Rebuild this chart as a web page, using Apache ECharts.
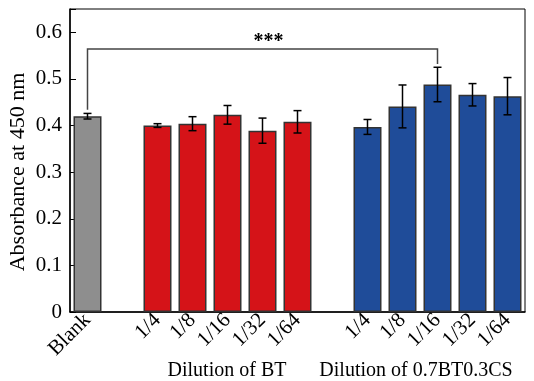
<!DOCTYPE html>
<html>
<head>
<meta charset="utf-8">
<script src="https://cdn.jsdelivr.net/npm/echarts@6/dist/echarts.min.js"></script>
<style>
html,body{margin:0;padding:0;background:#fff;}
#chart{width:534px;height:381px;}
</style>
</head>
<body>
<div id="chart"></div>
<script>
// x轴类别（空串为组间空位）
var categories = ['Blank', '', '1/4', '1/8', '1/16', '1/32', '1/64', '', '1/4', '1/8', '1/16', '1/32', '1/64'];
// 吸光度均值
var blankVal = [0.420];
var btVals = [0.400, 0.404, 0.423, 0.389, 0.408];
var csVals = [0.397, 0.441, 0.488, 0.466, 0.463];
// 误差
var blankErr = [0.006];
var btErr = [0.004, 0.015, 0.020, 0.027, 0.024];
var csErr = [0.016, 0.046, 0.037, 0.024, 0.040];
// 颜色
var colors = {blank: '#8e8e8e', bt: '#d51318', cs: '#1f4c99'};
// 显著性标注: [起点类别, 终点类别, 左脚, 右脚, 顶]
var sigBracket = [[0, 10, 0.434, 0.532, 0.564]];
var sigText = '***';
var yTitle = 'Absorbance at 450 nm';
var groupLabels = ['Dilution of BT', 'Dilution of 0.7BT0.3CS'];

var font = 'Liberation Serif';

// 构造柱子和误差数据
var barData = [];
var errData = [];
function pushGroup(vals, errs, color){
	for(var i = 0; i < vals.length; i++){
		var idx = barData.length;
		barData.push({value: vals[i], itemStyle: {color: color}});
		errData.push([idx, vals[i] - errs[i], vals[i] + errs[i]]);
	}
}
pushGroup(blankVal, blankErr, colors.blank);
barData.push(null);
pushGroup(btVals, btErr, colors.bt);
barData.push(null);
pushGroup(csVals, csErr, colors.cs);

var chart = echarts.init(document.getElementById('chart'));
var option = {
	animation: false,
	grid: {left: 70, right: 9, top: 9, bottom: 69, show: true, borderColor: '#000', borderWidth: 1},
	xAxis: {
		type: 'category',
		data: categories,
		axisLine: {lineStyle: {color: '#000', width: 1.5}},
		axisTick: {show: false},
		axisLabel: {rotate: 45, interval: 0, margin: 5, color: '#000', fontFamily: font, fontSize: 21}
	},
	yAxis: {
		type: 'value',
		min: 0, max: 0.65, interval: 0.1,
		splitLine: {show: false},
		axisLine: {show: true, lineStyle: {color: '#000', width: 1.5}},
		axisTick: {show: true, inside: true, length: 6, lineStyle: {color: '#000'}},
		axisLabel: {
			color: '#000', fontFamily: font, fontSize: 21, margin: 8,
			formatter: function(v){
				var r = Math.round(v * 10);
				if(Math.abs(v * 10 - r) > 1e-6) return '';
				return r == 0 ? '0' : (r / 10).toString();
			}
		}
	},
	series: [
		{
			type: 'bar',
			data: barData,
			barWidth: '80%',
			itemStyle: {borderColor: '#333', borderWidth: 1.5}
		},
		{
			type: 'custom',
			data: errData,
			z: 5,
			renderItem: function(params, api){
				var x = api.value(0);
				var lo = api.coord([x, api.value(1)]);
				var hi = api.coord([x, api.value(2)]);
				var cap = 4;
				var st = {stroke: '#000', lineWidth: 1.5};
				return {type: 'group', children: [
					{type: 'line', shape: {x1: lo[0], y1: lo[1], x2: hi[0], y2: hi[1]}, style: st},
					{type: 'line', shape: {x1: hi[0] - cap, y1: hi[1], x2: hi[0] + cap, y2: hi[1]}, style: st},
					{type: 'line', shape: {x1: lo[0] - cap, y1: lo[1], x2: lo[0] + cap, y2: lo[1]}, style: st}
				]};
			}
		},
		{
			type: 'custom',
			data: sigBracket,
			z: 5,
			renderItem: function(params, api){
				var a = api.value(0), b = api.value(1);
				var p1 = api.coord([a, api.value(2)]);
				var p2 = api.coord([a, api.value(4)]);
				var p3 = api.coord([b, api.value(4)]);
				var p4 = api.coord([b, api.value(3)]);
				return {type: 'group', children: [
					{type: 'polyline', shape: {points: [p1, p2, p3, p4]}, style: {stroke: '#444', lineWidth: 1.5, fill: null}},
					{type: 'text', x: (p2[0] + p3[0]) / 2 + 6, y: p2[1] + 3,
						style: {text: sigText, fill: '#000', font: 'bold 20px ' + font, align: 'center', verticalAlign: 'bottom'}}
				]};
			}
		}
	],
	graphic: [
		{type: 'text', x: 18, y: 172, rotation: Math.PI / 2,
			style: {text: yTitle, fill: '#000', font: '22px ' + font, align: 'center', verticalAlign: 'middle'}},
		{type: 'text', x: 227, y: 371, style: {text: groupLabels[0], fill: '#000', font: '20px ' + font, align: 'center', verticalAlign: 'middle'}},
		{type: 'text', x: 416, y: 371, style: {text: groupLabels[1], fill: '#000', font: '20px ' + font, align: 'center', verticalAlign: 'middle'}}
	]
};
chart.setOption(option);
</script>
</body>
</html>
